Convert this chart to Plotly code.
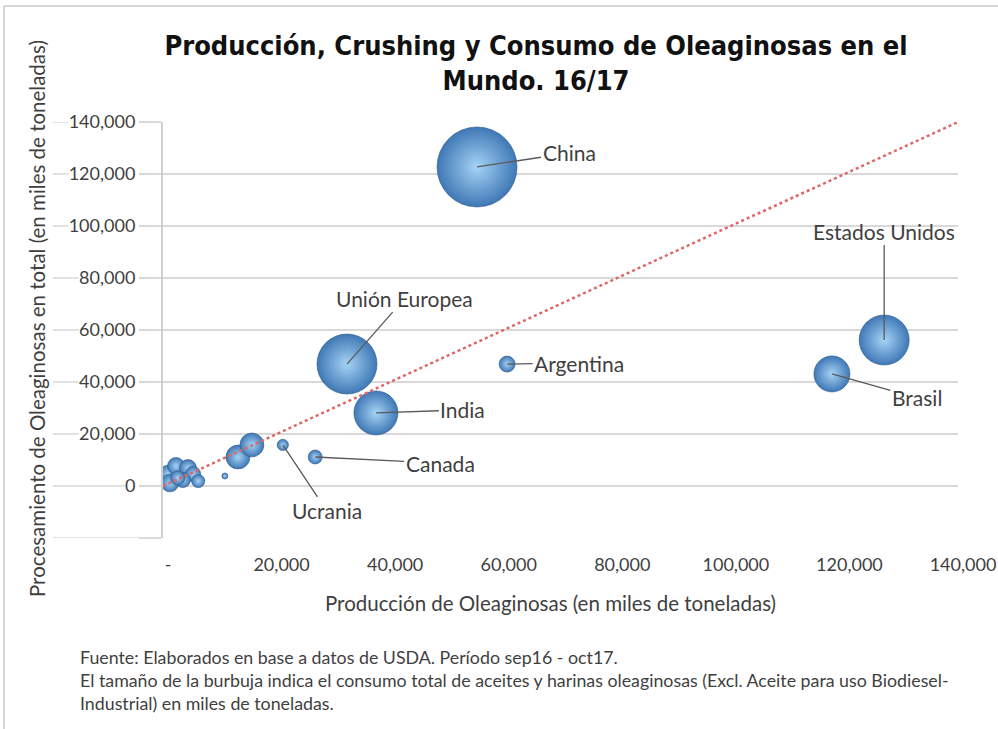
import plotly.graph_objects as go

# ---------------- data ----------------
countries = ["China", "Estados Unidos", "Brasil", "Unión Europea", "India", "Argentina",
             "Canada", "Ucrania", "", "", "", "", "", "", "", "", "", "", ""]
production = [55300, 127000, 117800, 32400, 37500, 60600,
              26800, 21100, 13200, 15650, 880, 2290, 4400, 5300, 1230, 3500, 6200, 2600, 10900]
crushing = [122700, 56150, 43100, 46900, 28100, 46900,
            11150, 15800, 11150, 15800, 4600, 7700, 6900, 4600, 1150, 2300, 1900, 3100, 3850]
consumption = [112000, 43800, 22700, 63000, 33900, 4500,
               3400, 2200, 10000, 10000, 5500, 5000, 5000, 4000, 5500, 4000, 3000, 3500, 630]

parity_x = [0, 140000]
parity_y = [0, 140000]

x_tickvals = [0, 20000, 40000, 60000, 80000, 100000, 120000, 140000]
x_ticktext = ["-", "20,000", "40,000", "60,000", "80,000", "100,000", "120,000", "140,000"]
y_tickvals = [-20000, 0, 20000, 40000, 60000, 80000, 100000, 120000, 140000]
y_ticktext = ["", "0", "20,000", "40,000", "60,000", "80,000", "100,000", "120,000", "140,000"]

# label placement offsets (pixels) for the labelled bubbles
label_offsets = {
    "China": (92, -14),
    "Estados Unidos": (0, -109),
    "Brasil": (85, 24),
    "Unión Europea": (58, -66),
    "India": (87, -3),
    "Argentina": (72, -1),
    "Canada": (125, 6),
    "Ucrania": (44, 66),
}

title_text = "Producción, Crushing y Consumo de Oleaginosas en el<br>Mundo. 16/17"
x_title = "Producción de Oleaginosas (en miles de toneladas)"
y_title = "Procesamiento de Oleaginosas en total (en miles de toneladas)"
note_text = ("Fuente: Elaborados en base a datos de USDA. Período sep16 - oct17.<br>"
             "El tamaño de la burbuja indica el consumo total de aceites y harinas oleaginosas "
             "(Excl. Aceite para uso Biodiesel-<br>Industrial) en miles de toneladas.")

# ---------------- layout geometry ----------------
W, H = 998, 729
L, R, T, B = 163, 40, 122, 191
PW, PH = W - L - R, H - T - B

def px_x(p):
    return (p - L) / PW

def px_y(p):
    return (H - B - p) / PH

FONT = "Lato, 'Open Sans', sans-serif"
TXT = "#3f3f3f"

max_diam = 80
sizeref = 2.0 * max(consumption) / (max_diam ** 2)

fig = go.Figure()

fig.add_trace(go.Scatter(
    x=production, y=crushing, mode="markers",
    text=countries,
    marker=dict(
        size=consumption, sizemode="area", sizeref=sizeref, sizemin=2,
        color="#3f78b6",
        gradient=dict(type="radial", color="#a6d3f5"),
        line=dict(color="#2b5986", width=0.6),
        opacity=1,
    ),
    hovertemplate="%{text}<br>Producción: %{x:,}<br>Procesamiento: %{y:,}<extra></extra>",
    showlegend=False,
))

fig.add_trace(go.Scatter(
    x=parity_x, y=parity_y, mode="lines",
    line=dict(color="#e06666", width=2.5, dash="dot"),
    hoverinfo="skip", showlegend=False,
))

annotations = []
for name, xv, yv in zip(countries, production, crushing):
    if name in label_offsets:
        ax, ay = label_offsets[name]
        annotations.append(dict(
            x=xv, y=yv, xref="x", yref="y", text=name,
            showarrow=True, arrowhead=0, arrowwidth=1.3, arrowcolor="#5a5a5a",
            ax=ax, ay=ay, standoff=0, startstandoff=0,
            font=dict(family=FONT, size=21, color=TXT),
        ))

# axis titles and notes
annotations.append(dict(
    x=px_x(550), y=px_y(603), xref="paper", yref="paper", text=x_title,
    showarrow=False, font=dict(family=FONT, size=20.5, color=TXT),
    xanchor="center", yanchor="middle",
))
annotations.append(dict(
    x=px_x(37), y=px_y(319), xref="paper", yref="paper", text=y_title,
    showarrow=False, textangle=-90, font=dict(family=FONT, size=20.5, color=TXT),
    xanchor="center", yanchor="middle",
))
annotations.append(dict(
    x=px_x(78), y=px_y(644), xref="paper", yref="paper", text=note_text,
    showarrow=False, align="left", font=dict(family=FONT, size=17.8, color=TXT),
    xanchor="left", yanchor="top",
))

# gridline stubs to the left of the y tick labels
shapes = []
for v, t in zip(y_tickvals, y_ticktext):
    width_est = sum(10.4 if c.isdigit() else 4.3 for c in t)
    end_px = (L - 25 - width_est - 3) if t else L
    shapes.append(dict(type="line", xref="paper", yref="y",
                       x0=px_x(53), x1=px_x(end_px), y0=v, y1=v,
                       line=dict(color="#d9d9d9", width=1.5), layer="below"))
# chart border (top and left)
shapes.append(dict(type="line", xref="paper", yref="paper",
                   x0=px_x(4), x1=px_x(998), y0=px_y(6), y1=px_y(6),
                   line=dict(color="#d6d6d6", width=2)))
shapes.append(dict(type="line", xref="paper", yref="paper",
                   x0=px_x(4), x1=px_x(4), y0=px_y(6), y1=px_y(729),
                   line=dict(color="#d6d6d6", width=2)))

fig.update_layout(
    width=W, height=H,
    margin=dict(l=L, r=R, t=T, b=B, autoexpand=False),
    paper_bgcolor="white", plot_bgcolor="white",
    title=dict(
        text=title_text, x=536 / W, xref="container", xanchor="center",
        y=1 - 55 / H, yref="container", yanchor="middle",
        font=dict(family="'Liberation Sans Narrow', 'DejaVu Sans Condensed', 'Roboto', sans-serif",
                  size=27, color="#111111", weight="bold"),
    ),
    xaxis=dict(
        range=[0, 140000], tickvals=x_tickvals, ticktext=x_ticktext,
        showgrid=False, zeroline=False, showline=False,
        ticks="", ticklabelstandoff=14, ticklabelshift=5,
        tickfont=dict(family=FONT, size=18, color=TXT),
    ),
    yaxis=dict(
        range=[-20000, 140000], tickvals=y_tickvals, ticktext=y_ticktext,
        showgrid=True, gridcolor="#d9d9d9", gridwidth=1.5,
        zeroline=False, showline=True, linecolor="#cfcfcf", linewidth=2,
        ticks="outside", ticklen=22, tickcolor="#d9d9d9", tickwidth=1.5,
        tickfont=dict(family=FONT, size=18, color=TXT),
    ),
    annotations=annotations,
    shapes=shapes,
    hovermode="closest",
)

fig.write_html("out.html", config={"displayModeBar": False},
               post_script="document.body.style.margin='0px';")
